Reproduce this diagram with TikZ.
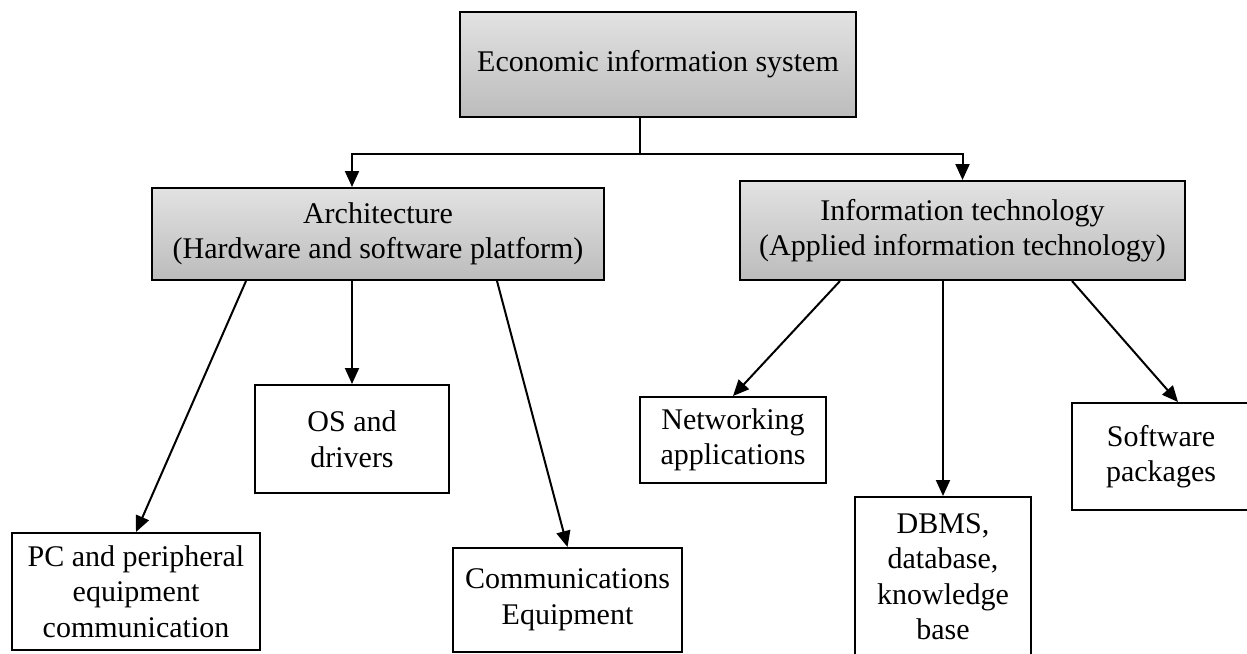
\documentclass[tikz,border=0pt]{standalone}
\usepackage{fontspec}
\setmainfont{Liberation Serif}
\usepackage{xcolor}
\definecolor{boxtop}{HTML}{E2E2E2}
\definecolor{boxbottom}{HTML}{BCBCBC}
\definecolor{inkdark}{HTML}{000000}
\usepackage{tikz}
\usetikzlibrary{positioning,arrows.meta}

\begin{document}
\begin{tikzpicture}[x=1pt, y=-1pt,
    font=\fontsize{30}{35.5}\selectfont,
    plainbox/.style={draw=inkdark, line width=2pt, fill=white, inner sep=0pt, align=center},
    graybox/.style={plainbox, top color=boxtop, bottom color=boxbottom},
    link/.style={inkdark, line width=2pt},
    arrowlink/.style={link, -{Triangle[length=16pt, width=14pt]}}]
  \useasboundingbox (0,0) rectangle (1247,653);
  % Top level
  \node[graybox, minimum width=396pt, minimum height=105pt] (sys) at (658,64.5) {Economic information system};
  % Second level
  \node[graybox, minimum width=452pt, minimum height=92pt] (arch) at (378,234)
    {Architecture\\(Hardware and software platform)};
  \node[graybox, minimum width=445pt, minimum height=99pt] (infotech) at (962.5,230.5)
    {Information technology\\(Applied information technology)};
  % Third level
  \node[plainbox, minimum width=248pt, minimum height=117pt] (pc) at (136,591.5)
    {PC and peripheral\\equipment\\communication};
  \node[plainbox, minimum width=194pt, minimum height=108pt] (os) at (352,439) {OS and\\drivers};
  \node[plainbox, minimum width=229pt, minimum height=104pt] (comm) at (567.5,600) {Communications\\Equipment};
  \node[plainbox, minimum width=186pt, minimum height=86pt] (netapp) at (733,440) {Networking\\applications};
  \node[plainbox, minimum width=176pt, minimum height=159pt] (dbms) at (943,576.5)
    {DBMS,\\database,\\knowledge\\base};
  \node[plainbox, minimum width=178pt, minimum height=107pt] (soft) at (1161,456.5) {Software\\packages};
  % Split below the top box
  \draw[link] ([xshift=-18pt]sys.south) -- ++(0,36) coordinate (split);
  \draw[arrowlink] (split) -| ([xshift=-26pt]arch.north);
  \draw[arrowlink] (split) -| (infotech.north);
  % Architecture branches
  \foreach \from/\to in {-132/pc, -26/os, 119/comm} {
    \draw[arrowlink] ([xshift=\from pt]arch.south) -- (\to.north);
  }
  % Information technology branches
  \draw[arrowlink] ([xshift=-122.5pt]infotech.south) -- (netapp.north);
  \draw[arrowlink] ([xshift=-19.5pt]infotech.south) -- (dbms.north);
  \draw[arrowlink] ([xshift=109.5pt]infotech.south) -- ([xshift=17pt]soft.north);
\end{tikzpicture}
\end{document}
